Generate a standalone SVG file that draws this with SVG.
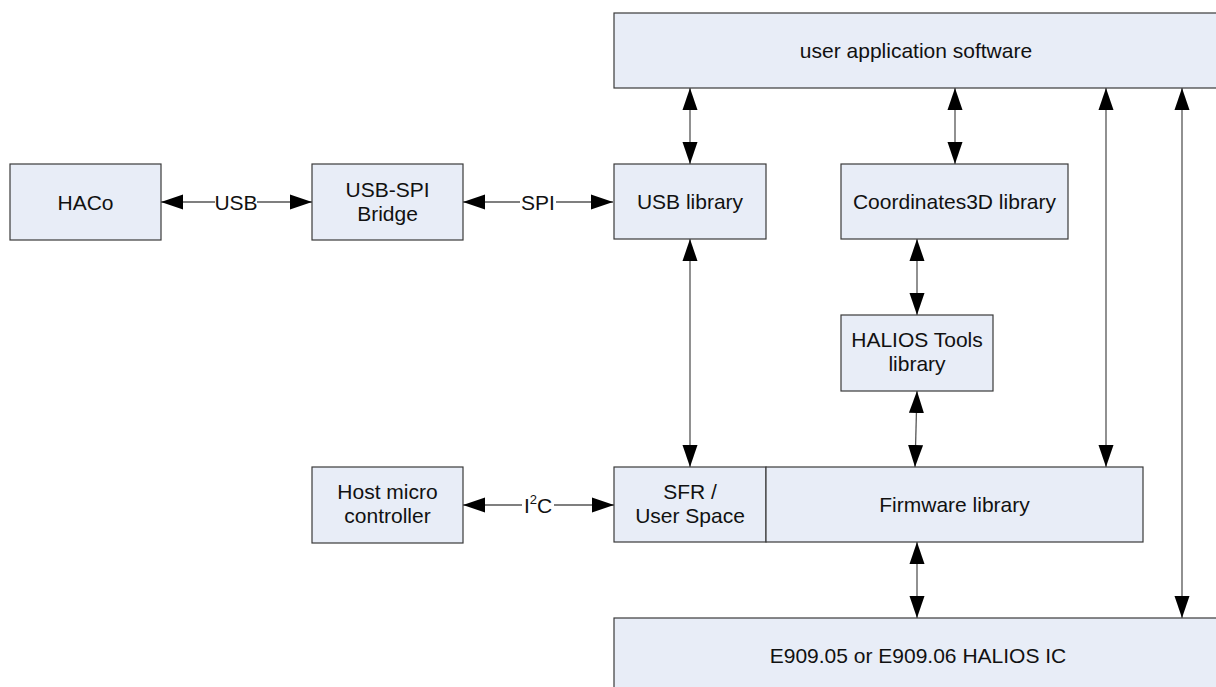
<svg xmlns="http://www.w3.org/2000/svg" width="1216" height="687" viewBox="0 0 1216 687">
<style>
  .box { fill: #E8EDF7; stroke: #3a3a3a; stroke-width: 1.2; }
  .t { font-family: "Liberation Sans", Arial, sans-serif; font-size: 21px; fill: #111; text-anchor: middle; }
  .c { stroke: #555; stroke-width: 1.3; fill: none; marker-start: url(#ah); marker-end: url(#ah); }
  .lbl { font-family: "Liberation Sans", Arial, sans-serif; font-size: 21px; fill: #111; text-anchor: middle; }
</style>
<defs>
  <marker id="ah" markerUnits="userSpaceOnUse" markerWidth="22" markerHeight="16" refX="22" refY="7.5" orient="auto-start-reverse" viewBox="0 0 22 15">
    <path d="M0,0 L22,7.5 L0,15 Z" fill="#000"/>
  </marker>
</defs>
<rect width="1216" height="687" fill="#fff"/>

<g id="connectors">
  <line class="c" x1="161" y1="202" x2="312" y2="202"/>
  <line class="c" x1="463" y1="202" x2="613" y2="202"/>
  <line class="c" x1="463" y1="505" x2="614" y2="505"/>
  <line class="c" x1="690" y1="88" x2="690" y2="164"/>
  <line class="c" x1="955" y1="88" x2="955" y2="164"/>
  <line class="c" x1="1106" y1="88" x2="1106" y2="467"/>
  <line class="c" x1="1182" y1="88" x2="1182" y2="618"/>
  <line class="c" x1="690" y1="239" x2="690" y2="467"/>
  <line class="c" x1="917" y1="239" x2="917" y2="315"/>
  <line class="c" x1="917" y1="391" x2="915" y2="467"/>
  <line class="c" x1="917" y1="542" x2="917" y2="618"/>
  <rect x="215" y="190" width="42" height="24" fill="#fff"/>
  <text class="lbl" x="236" y="210">USB</text>
  <rect x="520" y="190" width="36" height="24" fill="#fff"/>
  <text class="lbl" x="538" y="210">SPI</text>
  <rect x="522" y="490" width="32" height="26" fill="#fff"/>
  <text class="lbl" x="538" y="513">I<tspan font-size="13" dy="-9">2</tspan><tspan dy="9">C</tspan></text>
</g>

<g id="user-app">
  <rect class="box" x="614" y="13" width="610" height="75"/>
  <text class="t" x="916" y="58">user application software</text>
</g>
<g id="haco">
  <rect class="box" x="10" y="164" width="151" height="76"/>
  <text class="t" x="85.5" y="210">HACo</text>
</g>
<g id="usb-spi-bridge">
  <rect class="box" x="312" y="164" width="151" height="76"/>
  <text class="t" x="387.5" y="197">USB-SPI</text>
  <text class="t" x="387.5" y="221">Bridge</text>
</g>
<g id="usb-library">
  <rect class="box" x="614" y="164" width="152" height="75"/>
  <text class="t" x="690" y="209">USB library</text>
</g>
<g id="coordinates3d-library">
  <rect class="box" x="841" y="164" width="227" height="75"/>
  <text class="t" x="954.5" y="209">Coordinates3D library</text>
</g>
<g id="halios-tools-library">
  <rect class="box" x="841" y="315" width="152" height="76"/>
  <text class="t" x="917" y="347">HALIOS Tools</text>
  <text class="t" x="917" y="371">library</text>
</g>
<g id="host-micro-controller">
  <rect class="box" x="312" y="467" width="151" height="76"/>
  <text class="t" x="387.5" y="499">Host micro</text>
  <text class="t" x="387.5" y="523">controller</text>
</g>
<g id="sfr-user-space">
  <rect class="box" x="614" y="467" width="152" height="75"/>
  <text class="t" x="690" y="499">SFR /</text>
  <text class="t" x="690" y="523">User Space</text>
</g>
<g id="firmware-library">
  <rect class="box" x="766" y="467" width="377" height="75"/>
  <text class="t" x="954.5" y="512">Firmware library</text>
</g>
<g id="halios-ic">
  <rect class="box" x="614" y="618" width="610" height="80"/>
  <text class="t" x="918" y="663">E909.05 or E909.06 HALIOS IC</text>
</g>
</svg>
